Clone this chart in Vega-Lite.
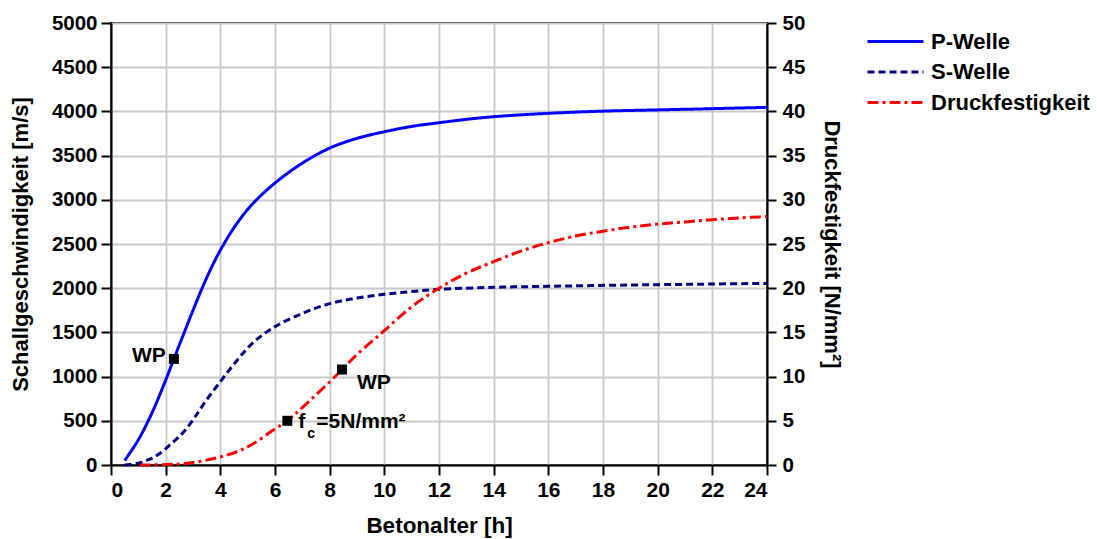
{
  "$schema": "https://vega.github.io/schema/vega-lite/v6.json",
  "width": 656,
  "height": 442,
  "autosize": {"type": "none"},
  "padding": {"left": 111, "top": 23, "right": 330, "bottom": 74},
  "background": "white",
  "config": {
    "font": "Liberation Sans",
    "view": {"stroke": "black", "strokeWidth": 2},
    "axis": {
      "domainColor": "black",
      "domainWidth": 2,
      "tickColor": "black",
      "tickWidth": 2,
      "tickSize": 9,
      "labelFont": "Liberation Sans",
      "labelFontWeight": "bold",
      "labelFontSize": 20.5,
      "labelColor": "black",
      "titleFont": "Liberation Sans",
      "titleFontWeight": "bold",
      "titleFontSize": 22,
      "titleColor": "black",
      "gridColor": "#c8c8c8",
      "gridWidth": 1.8
    }
  },
  "datasets": {
    "wellen": [
      {"serie": "P-Welle", "t": 0.5, "v": 50},
      {"serie": "P-Welle", "t": 1.0, "v": 285},
      {"serie": "P-Welle", "t": 1.5, "v": 590},
      {"serie": "P-Welle", "t": 2.0, "v": 960},
      {"serie": "P-Welle", "t": 2.3, "v": 1200},
      {"serie": "P-Welle", "t": 2.7, "v": 1515},
      {"serie": "P-Welle", "t": 3.0, "v": 1750},
      {"serie": "P-Welle", "t": 3.3, "v": 1975},
      {"serie": "P-Welle", "t": 3.6, "v": 2185},
      {"serie": "P-Welle", "t": 4.0, "v": 2430},
      {"serie": "P-Welle", "t": 4.6, "v": 2730},
      {"serie": "P-Welle", "t": 5.2, "v": 2960},
      {"serie": "P-Welle", "t": 6.0, "v": 3190},
      {"serie": "P-Welle", "t": 7.0, "v": 3415},
      {"serie": "P-Welle", "t": 8.0, "v": 3585},
      {"serie": "P-Welle", "t": 9.0, "v": 3695},
      {"serie": "P-Welle", "t": 10.0, "v": 3770},
      {"serie": "P-Welle", "t": 11.0, "v": 3830},
      {"serie": "P-Welle", "t": 12.0, "v": 3872},
      {"serie": "P-Welle", "t": 13.0, "v": 3910},
      {"serie": "P-Welle", "t": 14.0, "v": 3940},
      {"serie": "P-Welle", "t": 16.0, "v": 3978},
      {"serie": "P-Welle", "t": 18.0, "v": 4003},
      {"serie": "P-Welle", "t": 20.0, "v": 4017},
      {"serie": "P-Welle", "t": 22.0, "v": 4031},
      {"serie": "P-Welle", "t": 24.0, "v": 4046},
      {"serie": "S-Welle", "t": 0.5, "v": 0},
      {"serie": "S-Welle", "t": 1.0, "v": 20},
      {"serie": "S-Welle", "t": 1.35, "v": 57},
      {"serie": "S-Welle", "t": 1.7, "v": 113},
      {"serie": "S-Welle", "t": 2.2, "v": 240},
      {"serie": "S-Welle", "t": 2.6, "v": 355},
      {"serie": "S-Welle", "t": 3.0, "v": 510},
      {"serie": "S-Welle", "t": 3.4, "v": 695},
      {"serie": "S-Welle", "t": 4.0, "v": 943},
      {"serie": "S-Welle", "t": 4.6, "v": 1180},
      {"serie": "S-Welle", "t": 5.2, "v": 1385},
      {"serie": "S-Welle", "t": 6.0, "v": 1565},
      {"serie": "S-Welle", "t": 7.0, "v": 1715},
      {"serie": "S-Welle", "t": 8.0, "v": 1825},
      {"serie": "S-Welle", "t": 9.0, "v": 1888},
      {"serie": "S-Welle", "t": 10.0, "v": 1932},
      {"serie": "S-Welle", "t": 11.0, "v": 1962},
      {"serie": "S-Welle", "t": 12.0, "v": 1987},
      {"serie": "S-Welle", "t": 14.0, "v": 2010},
      {"serie": "S-Welle", "t": 16.0, "v": 2021},
      {"serie": "S-Welle", "t": 18.0, "v": 2032},
      {"serie": "S-Welle", "t": 20.0, "v": 2040},
      {"serie": "S-Welle", "t": 22.0, "v": 2047},
      {"serie": "S-Welle", "t": 24.0, "v": 2055}
    ],
    "festigkeit": [
      {"serie": "Druckfestigkeit", "t": 1.05, "f": 0},
      {"serie": "Druckfestigkeit", "t": 2.0, "f": 0.05},
      {"serie": "Druckfestigkeit", "t": 2.8, "f": 0.19},
      {"serie": "Druckfestigkeit", "t": 3.8, "f": 0.76},
      {"serie": "Druckfestigkeit", "t": 4.6, "f": 1.5},
      {"serie": "Druckfestigkeit", "t": 5.2, "f": 2.4},
      {"serie": "Druckfestigkeit", "t": 6.0, "f": 4.1},
      {"serie": "Druckfestigkeit", "t": 6.45, "f": 5.0},
      {"serie": "Druckfestigkeit", "t": 7.0, "f": 6.5},
      {"serie": "Druckfestigkeit", "t": 8.0, "f": 9.4},
      {"serie": "Druckfestigkeit", "t": 8.45, "f": 10.8},
      {"serie": "Druckfestigkeit", "t": 9.0, "f": 12.5},
      {"serie": "Druckfestigkeit", "t": 10.0, "f": 15.2},
      {"serie": "Druckfestigkeit", "t": 11.0, "f": 17.9},
      {"serie": "Druckfestigkeit", "t": 12.0, "f": 20.0},
      {"serie": "Druckfestigkeit", "t": 13.0, "f": 21.7},
      {"serie": "Druckfestigkeit", "t": 14.0, "f": 23.0},
      {"serie": "Druckfestigkeit", "t": 15.0, "f": 24.2},
      {"serie": "Druckfestigkeit", "t": 16.0, "f": 25.15},
      {"serie": "Druckfestigkeit", "t": 17.0, "f": 25.9},
      {"serie": "Druckfestigkeit", "t": 18.0, "f": 26.45},
      {"serie": "Druckfestigkeit", "t": 19.0, "f": 26.9},
      {"serie": "Druckfestigkeit", "t": 20.0, "f": 27.25},
      {"serie": "Druckfestigkeit", "t": 21.0, "f": 27.5},
      {"serie": "Druckfestigkeit", "t": 22.0, "f": 27.75},
      {"serie": "Druckfestigkeit", "t": 23.0, "f": 27.95},
      {"serie": "Druckfestigkeit", "t": 24.0, "f": 28.1}
    ],
    "wp_welle": [{"t": 2.3, "v": 1200, "text": "WP"}],
    "punkte_festigkeit": [
      {"t": 6.45, "f": 5.0},
      {"t": 8.45, "f": 10.8}
    ]
  },
  "layer": [
    {
      "layer": [
        {
          "data": {"name": "wellen"},
          "mark": {"type": "line", "strokeWidth": 3, "interpolate": "catmull-rom"},
          "encoding": {
            "x": {
              "field": "t",
              "type": "quantitative",
              "scale": {"domain": [0, 24], "nice": false},
              "axis": {
                "title": "Betonalter [h]",
                "titlePadding": 14,
                "titleFontSize": 22.5,
                "values": [0,1,2,3,4,5,6,7,8,9,10,11,12,13,14,15,16,17,18,19,20,21,22,23,24],
                "labelExpr": "datum.value % 2 ? '' : datum.label",
                "labelFontSize": 21,
                "labelPadding": 4,
                "tickSize": {"condition": {"test": "datum.value % 2", "value": 5}, "value": 10},
                "gridOpacity": {"condition": {"test": "datum.value % 2", "value": 0}, "value": 1},
                "grid": true
              }
            },
            "y": {
              "field": "v",
              "type": "quantitative",
              "scale": {"domain": [0, 5000], "nice": false},
              "axis": {
                "title": "Schallgeschwindigkeit [m/s]",
                "values": [0,500,1000,1500,2000,2500,3000,3500,4000,4500,5000],
                "format": "d",
                "tickSize": 10,
                "labelPadding": 4,
                "titlePadding": 19,
                "grid": true
              }
            },
            "color": {
              "field": "serie",
              "type": "nominal",
              "scale": {
                "domain": ["P-Welle", "S-Welle", "Druckfestigkeit"],
                "range": ["#0000ff", "#000080", "#ff0000"]
              },
              "legend": {
                "title": null,
                "orient": "none",
                "legendX": 773,
                "legendY": 7,
                "padding": 0,
                "symbolType": "M-2.8,0H2.8",
                "symbolSize": 400,
                "symbolStrokeWidth": 3,
                "labelFont": "Liberation Sans",
                "labelFontWeight": "bold",
                "labelFontSize": 22,
                "labelColor": "black",
                "labelOffset": 24,
                "rowPadding": 7.5
              }
            },
            "strokeDash": {
              "field": "serie",
              "type": "nominal",
              "scale": {
                "domain": ["P-Welle", "S-Welle", "Druckfestigkeit"],
                "range": [[1, 0], [7, 4], [11, 4, 3, 4]]
              },
              "legend": null
            }
          }
        },
        {
          "data": {"name": "wp_welle"},
          "mark": {"type": "point", "shape": "square", "filled": true, "color": "black", "size": 100, "opacity": 1},
          "encoding": {
            "x": {"field": "t", "type": "quantitative"},
            "y": {"field": "v", "type": "quantitative"}
          }
        },
        {
          "data": {"name": "wp_welle"},
          "mark": {"type": "text", "align": "right", "baseline": "middle", "dx": -8, "dy": -3, "fontSize": 21, "fontWeight": "bold", "color": "black", "font": "Liberation Sans"},
          "encoding": {
            "x": {"field": "t", "type": "quantitative"},
            "y": {"field": "v", "type": "quantitative"},
            "text": {"field": "text"}
          }
        }
      ]
    },
    {
      "layer": [
        {
          "data": {"name": "festigkeit"},
          "mark": {"type": "line", "strokeWidth": 3, "interpolate": "catmull-rom"},
          "encoding": {
            "x": {"field": "t", "type": "quantitative"},
            "y": {
              "field": "f",
              "type": "quantitative",
              "scale": {"domain": [0, 50], "nice": false},
              "axis": {
                "orient": "right",
                "title": "Druckfestigkeit [N/mm²]",
                "values": [0,5,10,15,20,25,30,35,40,45,50],
                "tickSize": 9,
                "labelPadding": 6,
                "titlePadding": 15,
                "grid": false
              }
            },
            "color": {"field": "serie", "type": "nominal"},
            "strokeDash": {"field": "serie", "type": "nominal"}
          }
        },
        {
          "data": {"name": "punkte_festigkeit"},
          "mark": {"type": "point", "shape": "square", "filled": true, "color": "black", "size": 100, "opacity": 1},
          "encoding": {
            "x": {"field": "t", "type": "quantitative"},
            "y": {"field": "f", "type": "quantitative"}
          }
        },
        {
          "data": {"values": [{"t": 8.45, "f": 10.8, "text": "WP"}]},
          "mark": {"type": "text", "align": "left", "baseline": "middle", "dx": 15, "dy": 13, "fontSize": 21, "fontWeight": "bold", "color": "black", "font": "Liberation Sans"},
          "encoding": {
            "x": {"field": "t", "type": "quantitative"},
            "y": {"field": "f", "type": "quantitative"},
            "text": {"field": "text"}
          }
        },
        {
          "data": {"values": [{"t": 6.45, "f": 5.0, "text": "f"}]},
          "mark": {"type": "text", "align": "left", "baseline": "middle", "dx": 11, "dy": 1, "fontSize": 21, "fontWeight": "bold", "color": "black", "font": "Liberation Sans"},
          "encoding": {
            "x": {"field": "t", "type": "quantitative"},
            "y": {"field": "f", "type": "quantitative"},
            "text": {"field": "text"}
          }
        },
        {
          "data": {"values": [{"t": 6.45, "f": 5.0, "text": "c"}]},
          "mark": {"type": "text", "align": "left", "baseline": "middle", "dx": 20, "dy": 13, "fontSize": 14, "fontWeight": "bold", "color": "black", "font": "Liberation Sans"},
          "encoding": {
            "x": {"field": "t", "type": "quantitative"},
            "y": {"field": "f", "type": "quantitative"},
            "text": {"field": "text"}
          }
        },
        {
          "data": {"values": [{"t": 6.45, "f": 5.0, "text": "=5N/mm²"}]},
          "mark": {"type": "text", "align": "left", "baseline": "middle", "dx": 29, "dy": 1, "fontSize": 21, "fontWeight": "bold", "color": "black", "font": "Liberation Sans"},
          "encoding": {
            "x": {"field": "t", "type": "quantitative"},
            "y": {"field": "f", "type": "quantitative"},
            "text": {"field": "text"}
          }
        }
      ]
    }
  ],
  "resolve": {"scale": {"y": "independent"}}
}
